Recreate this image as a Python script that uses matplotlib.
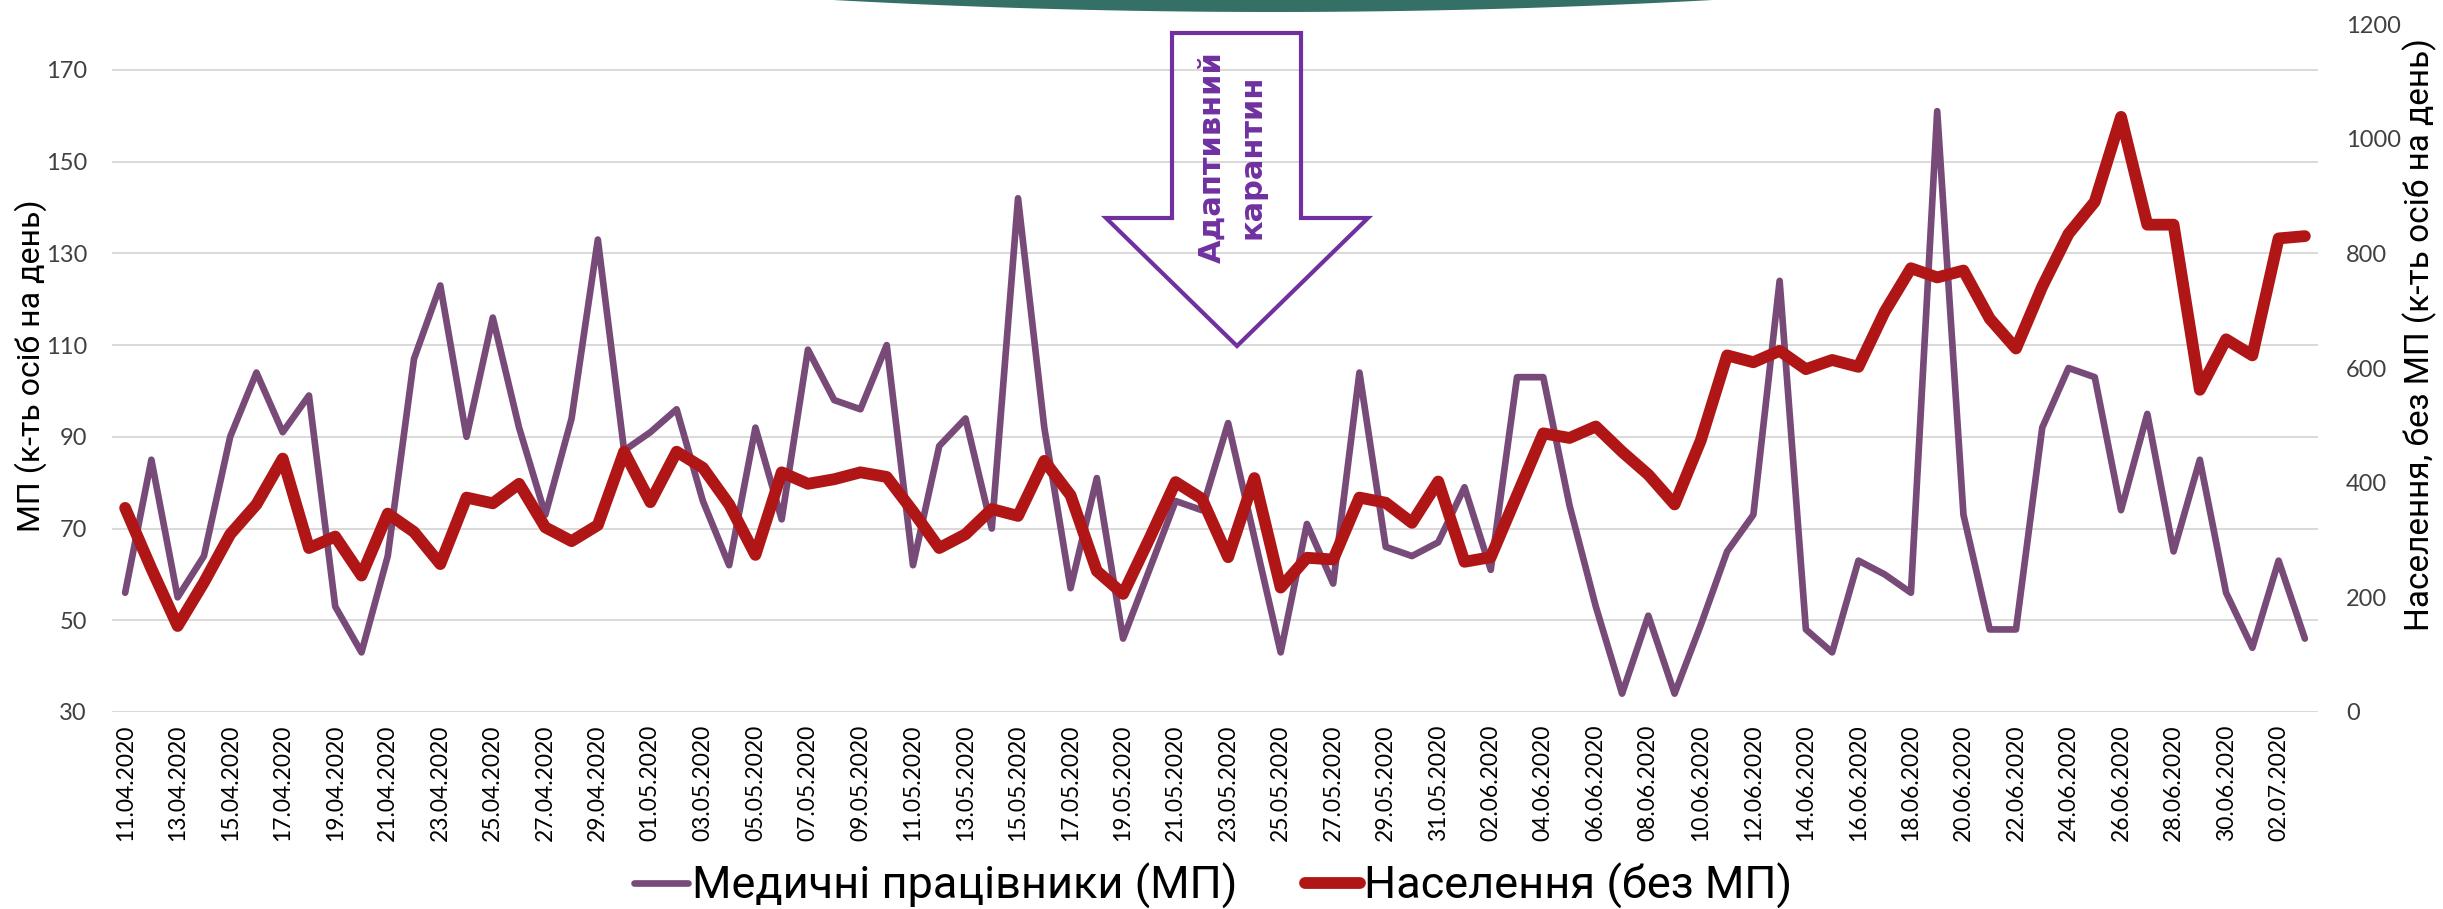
import numpy as np
import pandas as pd
import matplotlib
matplotlib.use('Agg')
import matplotlib.pyplot as plt
from matplotlib.patches import Polygon

# daily dates, 11.04.2020 - 03.07.2020
dates = pd.date_range('2020-04-11', '2020-07-03').strftime('%d.%m.%Y').tolist()

# medical workers (left axis)
mp = [56, 85, 55, 64, 90, 104, 91, 99, 53, 43,
      64, 107, 123, 90, 116, 92, 73, 94, 133, 87,
      91, 96, 76, 62, 92, 72, 109, 98, 96, 110,
      62, 88, 94, 70, 142, 92, 57, 81, 46, 61,
      76, 74, 93, 68, 43, 71, 58, 104, 66, 64,
      67, 79, 61, 103, 103, 75, 53, 34, 51, 34,
      49, 65, 73, 124, 48, 43, 63, 60, 56, 161,
      73, 48, 48, 92, 105, 103, 74, 95, 65, 85,
      56, 44, 63, 46]

# population without medical workers (right axis)
pop = [356, 250, 150, 226, 310, 362, 442, 286, 306, 238,
       346, 314, 258, 374, 364, 398, 322, 298, 326, 454,
       366, 454, 426, 362, 274, 418, 398, 406, 418, 410,
       350, 286, 310, 354, 342, 438, 378, 246, 206, 302,
       401, 372, 270, 408, 217, 269, 266, 374, 365, 330,
       402, 262, 270, 378, 486, 478, 498, 454, 414, 362,
       474, 622, 610, 630, 598, 614, 602, 698, 774, 758,
       770, 686, 634, 742, 834, 890, 1038, 850, 850, 562,
       650, 622, 826, 830]

label_mp = 'Медичні працівники (МП)'
label_pop = 'Населення (без МП)'
ylabel_left = 'МП (к-ть осіб на день)'
ylabel_right = 'Населення, без МП (к-ть осіб на день)'
note = 'Адаптивний\nкарантин'

narrow = ['Roboto', 'DejaVu Sans']
plt.rcParams['font.family'] = ['Lato', 'DejaVu Sans']

W, H = 2443, 909
fig = plt.figure(figsize=(W / 100, H / 100), dpi=100)
ax = fig.add_axes([112 / W, 1 - 712 / H, (2318 - 112) / W, (712 - 24) / H])

x = np.arange(len(dates))
ax.plot(x, mp, color='#774A78', lw=4.8, solid_joinstyle='round',
        solid_capstyle='round', label=label_mp, zorder=3)
ax.set_xlim(-0.5, len(dates) - 0.5)
ax.set_ylim(30, 180)
ax.set_yticks(range(30, 171, 20))
ax.yaxis.grid(True, color='#D9D9D9', lw=1.4)
ax.set_axisbelow(True)
ax.set_xticks(x[::2])
ax.set_xticklabels(dates[::2], rotation=90, fontsize=16.5)
ax.tick_params(axis='both', length=0, labelsize=17, colors='#404040')
ax.tick_params(axis='x', pad=9, labelcolor='black', labelsize=16.5)
ax.tick_params(axis='y', pad=18)

ax2 = ax.twinx()
ax2.plot(x, pop, color='#B01616', lw=8.5, solid_joinstyle='round',
         solid_capstyle='round', label=label_pop, zorder=4)
ax2.set_ylim(0, 1200)
ax2.set_yticks(range(0, 1201, 200))
ax2.tick_params(axis='y', length=0, labelsize=17, pad=20, colors='#404040')

for a in (ax, ax2):
    for s in a.spines.values():
        s.set_visible(False)

fig.text(31 / W, 1 - 366 / H, ylabel_left, rotation=90, ha='center', va='center',
         fontsize=23, family=narrow)
fig.text(2420 / W, 1 - 335 / H, ylabel_right, rotation=90, ha='center', va='center',
         fontsize=24, family=narrow)

# hollow arrow
pts = [(1172, 33), (1301, 33), (1301, 218), (1368, 218), (1237, 346),
       (1106, 218), (1172, 218)]
arrow = Polygon([(px / W, 1 - py / H) for px, py in pts], closed=True,
                fill=False, edgecolor='#7030A0', lw=3,
                transform=fig.transFigure, zorder=5)
fig.patches.append(arrow)
fig.text(1232 / W, 1 - 157 / H, note, rotation=90, ha='center', va='center',
         multialignment='center', fontsize=22, fontweight='bold', color='#7030A0',
         linespacing=1.45, family=['DejaVu Sans'])

# teal shape at the top edge
xs = np.linspace(833, 1714, 80)
ys = 12 - 12 * ((xs - 1273) / 440) ** 2
top = [(px / W, 1 - py / H) for px, py in zip(xs, ys)]
top = top + [(1714 / W, 1.0), (833 / W, 1.0)]
fig.patches.append(Polygon(top, closed=True, facecolor='#347066', edgecolor='none',
                           transform=fig.transFigure))

h1, l1 = ax.get_legend_handles_labels()
h2, l2 = ax2.get_legend_handles_labels()
fig.legend(h1 + h2, l1 + l2, loc='center', bbox_to_anchor=(1213 / W, 1 - 886 / H),
           ncol=2, frameon=False, prop={'family': narrow, 'size': 32.5},
           handlelength=1.2, handletextpad=0.1, columnspacing=1.5)

fig.savefig('out.png', dpi=100)
